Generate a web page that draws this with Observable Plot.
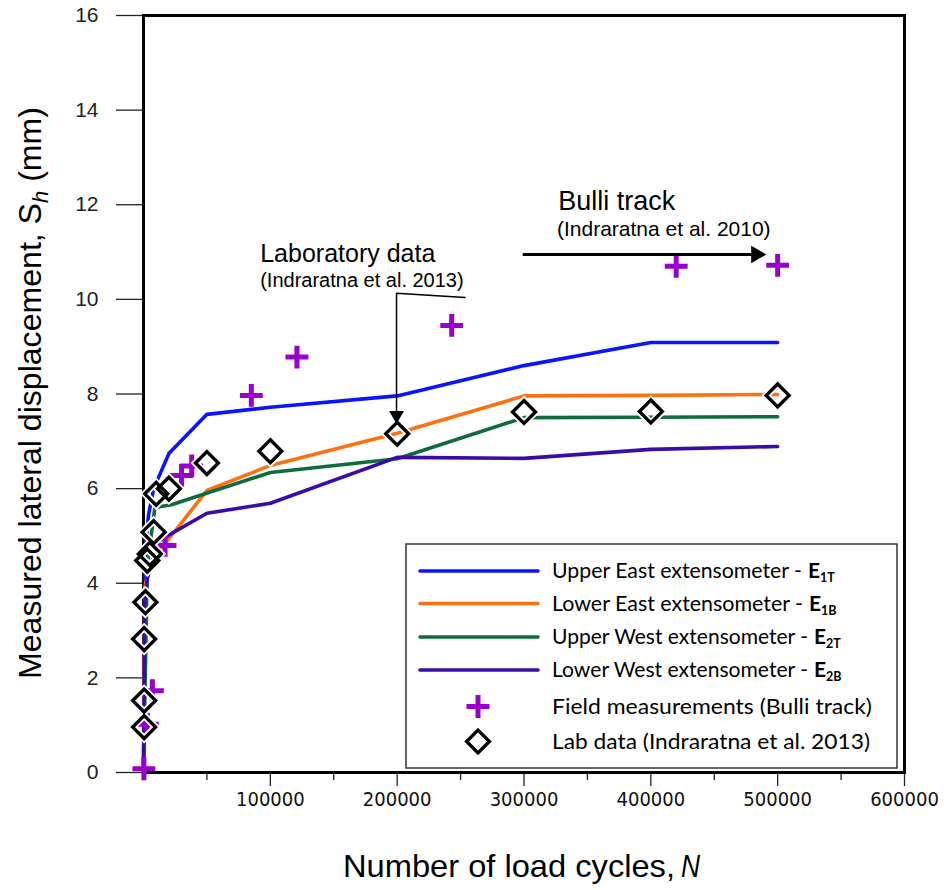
<!DOCTYPE html>
<html>
<head>
<meta charset="utf-8">
<script src="https://cdn.jsdelivr.net/npm/d3@7"></script>
<script src="https://cdn.jsdelivr.net/npm/@observablehq/plot@0.6"></script>
<style>
  body { margin: 0; background: #fff; }
  #chart { width: 944px; height: 890px; }
</style>
</head>
<body>
<div id="chart"></div>
<script>
// Lateral displacement of ballast vs. number of load cycles (Bulli track extensometers)

// Upper East extensometer E1T
const e1tN = [0, 1500, 4000, 8000, 20000, 50000, 100000, 200000, 300000, 400000, 500000];
const e1tS = [0, 4.75, 5.45, 6.0, 6.74, 7.57, 7.72, 7.96, 8.6, 9.09, 9.09];
// Lower East extensometer E1B
const e1bN = [0, 1000, 5000, 13000, 50000, 100000, 200000, 300000, 400000, 500000];
const e1bS = [0, 3.9, 4.4, 4.7, 5.96, 6.49, 7.17, 7.96, 7.97, 7.99];
// Upper West extensometer E2T
const e2tN = [0, 3000, 9000, 22000, 100000, 200000, 300000, 400000, 500000];
const e2tS = [0, 4.4, 5.6, 5.66, 6.34, 6.63, 7.5, 7.51, 7.52];
// Lower West extensometer E2B
const e2bN = [0, 1000, 3000, 11000, 50000, 100000, 200000, 300000, 400000, 500000];
const e2bS = [0, 3.6, 4.1, 4.88, 5.48, 5.69, 6.66, 6.64, 6.83, 6.89];

// Field measurements (Bulli track)
const fieldN = [300, 3000, 7000, 17000, 30000, 38000, 85000, 121000, 243000, 420000, 500000];
const fieldS = [0.08, 1.02, 1.73, 4.8, 6.28, 6.48, 7.97, 8.78, 9.45, 10.7, 10.72];

// Lab data (Indraratna et al. 2013)
const labN = [500, 500, 500, 1500, 3000, 5000, 8000, 10000, 20000, 50000, 100000, 200000, 300000, 400000, 500000];
const labS = [0.96, 1.52, 2.82, 3.6, 4.48, 4.62, 5.08, 5.89, 6.0, 6.54, 6.79, 7.16, 7.62, 7.63, 7.97];

// Axis ticks
const yTicks = [0, 2, 4, 6, 8, 10, 12, 14, 16];
const xMajorTicks = [100000, 200000, 300000, 400000, 500000, 600000];
const xMinorTicks = [50000, 150000, 250000, 350000, 450000, 550000];

// Series names, legend labels and colours
const seriesNames = ["E1T", "E1B", "E2T", "E2B"];
const seriesLabels = ["Upper East extensometer -", "Lower East extensometer -", "Upper West extensometer -", "Lower West extensometer -"];
const seriesSubs = ["1T", "1B", "2T", "2B"];
const seriesColors = ["#0a14ff", "#ff7010", "#0f6b3b", "#3a0ca5"];
const fieldColor = "#9900cc";

const seriesData = [[e1tN, e1tS], [e1bN, e1bS], [e2tN, e2tS], [e2bN, e2bS]]
  .flatMap(([ns, ss], i) => ns.map((n, j) => ({series: seriesNames[i], n, s: ss[j]})));
const field = fieldN.map((n, i) => ({n, s: fieldS[i]}));
const lab = labN.map((n, i) => ({n, s: labS[i]}));

const narrow = "'DejaVu Sans Condensed', sans-serif";
const sans = "'Liberation Sans', Arial, sans-serif";
const legendFont = "Lato, 'Open Sans', sans-serif";

const plot = Plot.plot({
  width: 944,
  height: 890,
  marginLeft: 143,
  marginRight: 40,
  marginTop: 15,
  marginBottom: 118,
  x: {domain: [0, 600000]},
  y: {domain: [0, 16]},
  color: {domain: seriesNames, range: seriesColors},
  style: {background: "#fff", overflow: "visible"},
  marks: [
    Plot.axisY({ticks: yTicks, tickSize: 27, tickPadding: 18, fontSize: 21, fontFamily: sans,
      stroke: "#222", strokeWidth: 1.3, fill: "#222", label: null, tickFormat: d => String(d)}),
    Plot.axisX({ticks: xMinorTicks, tickSize: 8, stroke: "#222", strokeWidth: 1.3, text: null, label: null}),
    Plot.axisX({ticks: xMajorTicks, tickSize: 14, tickPadding: 5, fontSize: 20, fontFamily: narrow,
      stroke: "#222", strokeWidth: 1.3, fill: "#111", label: null, tickFormat: d => String(d)}),
    Plot.frame({stroke: "#000", strokeWidth: 3}),
    Plot.line(seriesData, {x: "n", y: "s", z: "series", stroke: "series", strokeWidth: 3.6, curve: "linear"}),
    Plot.dot(field, {x: "n", y: "s", symbol: "plus", r: 7.4, stroke: fieldColor, strokeWidth: 5}),
    Plot.dot(lab, {x: "n", y: "s", symbol: "diamond2", r: 10.3, stroke: "#fff", strokeWidth: 7, fill: "none"}),
    Plot.dot(lab, {x: "n", y: "s", symbol: "diamond2", r: 10.3, stroke: "#000", strokeWidth: 3.4, fill: "none"}),
    // Laboratory data call-out
    Plot.text(["Laboratory data"], {x: 92000, y: 10.8, text: d => d, textAnchor: "start", lineAnchor: "bottom",
      fontSize: 25, fontFamily: sans, fill: "#000"}),
    Plot.text(["(Indraratna et al. 2013)"], {x: 92000, y: 10.27, text: d => d, textAnchor: "start", lineAnchor: "bottom",
      fontSize: 20, fontFamily: sans, fill: "#000"}),
    Plot.line([{n: 253500, s: 10.04}, {n: 199500, s: 10.13}, {n: 199500, s: 7.6}], {x: "n", y: "s", stroke: "#000", strokeWidth: 1.5}),
    Plot.dot([{n: 199500, s: 7.38}], {x: "n", y: "s", symbol: "triangle", rotate: 180, r: 5.5, dy: -8, fill: "#000", stroke: "none"}),
    // Bulli track call-out
    Plot.text(["Bulli track"], {x: 327000, y: 11.88, text: d => d, textAnchor: "start", lineAnchor: "bottom",
      fontSize: 27, fontFamily: sans, fill: "#000"}),
    Plot.text(["(Indraratna et al. 2010)"], {x: 326000, y: 11.35, text: d => d, textAnchor: "start", lineAnchor: "bottom",
      fontSize: 21, fontFamily: sans, fill: "#000"}),
    Plot.link([{x1: 299000, x2: 482000, y: 10.95}], {x1: "x1", x2: "x2", y1: "y", y2: "y", stroke: "#000", strokeWidth: 3}),
    Plot.dot([{n: 491000, s: 10.95}], {x: "n", y: "s", symbol: "triangle", rotate: 90, r: 6.5, dx: -10, fill: "#000", stroke: "none"})
  ]
});

const svg = d3.select(plot);

// Axis titles with italic symbols (condensed by fitting to a set length)
svg.append("text")
  .attr("transform", "translate(41,393) rotate(-90)")
  .attr("text-anchor", "middle")
  .attr("textLength", 572).attr("lengthAdjust", "spacingAndGlyphs")
  .style("font-family", sans).style("font-size", "32px").attr("fill", "#000")
  .call(t => {
    t.append("tspan").text("Measured lateral displacement, S");
    t.append("tspan").attr("font-style", "italic").style("font-size", "22px").attr("dy", 7).text("h");
    t.append("tspan").attr("dy", -7).text(" (mm)");
  });

svg.append("text")
  .attr("x", 343).attr("y", 877)
  .attr("text-anchor", "start")
  .attr("textLength", 332).attr("lengthAdjust", "spacingAndGlyphs")
  .style("font-family", sans).style("font-size", "32px").attr("fill", "#000")
  .text("Number of load cycles,");
svg.append("text")
  .attr("x", 681).attr("y", 877)
  .attr("text-anchor", "start")
  .attr("textLength", 19).attr("lengthAdjust", "spacingAndGlyphs")
  .style("font-family", sans).style("font-size", "31px").attr("font-style", "italic").attr("fill", "#000")
  .text("N");

// Legend
const lg = svg.append("g").attr("class", "legend").attr("text-anchor", "start");
lg.append("rect").attr("x", 406).attr("y", 544).attr("width", 491).attr("height", 224)
  .attr("fill", "#fff").attr("stroke", "#333").attr("stroke-width", 1.5);
const rowY = [571, 603.5, 637, 670, 706.5, 741.5];
const labelLen = [250, 251, 256, 256];
const eX = [808, 809, 814, 814];
seriesLabels.forEach((label, i) => {
  lg.append("line").attr("x1", 420).attr("x2", 538).attr("y1", rowY[i]).attr("y2", rowY[i])
    .attr("stroke", seriesColors[i]).attr("stroke-width", 3.6).attr("stroke-linecap", "round");
  lg.append("text").attr("x", 552).attr("y", rowY[i] + 7)
    .attr("textLength", labelLen[i]).attr("lengthAdjust", "spacingAndGlyphs")
    .style("font-family", legendFont).style("font-size", "20.5px").attr("fill", "#000").text(label);
  const e = lg.append("text").attr("x", eX[i]).attr("y", rowY[i] + 7)
    .style("font-family", legendFont).attr("font-weight", "bold").attr("fill", "#000");
  e.append("tspan").style("font-size", "21px").text("E");
  e.append("tspan").style("font-size", "12.5px").attr("dy", 4).text(seriesSubs[i]);
});
lg.append("path").attr("transform", `translate(478,${rowY[4]})`)
  .attr("d", d3.symbol(d3.symbolPlus, 175)()).attr("stroke", fieldColor).attr("stroke-width", 5).attr("fill", "none");
lg.append("path").attr("transform", `translate(478,${rowY[5]})`)
  .attr("d", d3.symbol(d3.symbolDiamond2, 330)()).attr("stroke", "#000").attr("stroke-width", 3.4).attr("fill", "none");
lg.append("text").attr("x", 552).attr("y", rowY[4] + 7)
  .attr("textLength", 320).attr("lengthAdjust", "spacingAndGlyphs")
  .style("font-family", legendFont).style("font-size", "20.5px").text("Field measurements (Bulli track)");
lg.append("text").attr("x", 552).attr("y", rowY[5] + 7)
  .attr("textLength", 318).attr("lengthAdjust", "spacingAndGlyphs")
  .style("font-family", legendFont).style("font-size", "20.5px").text("Lab data (Indraratna et al. 2013)");

document.getElementById("chart").append(plot);
</script>
</body>
</html>
